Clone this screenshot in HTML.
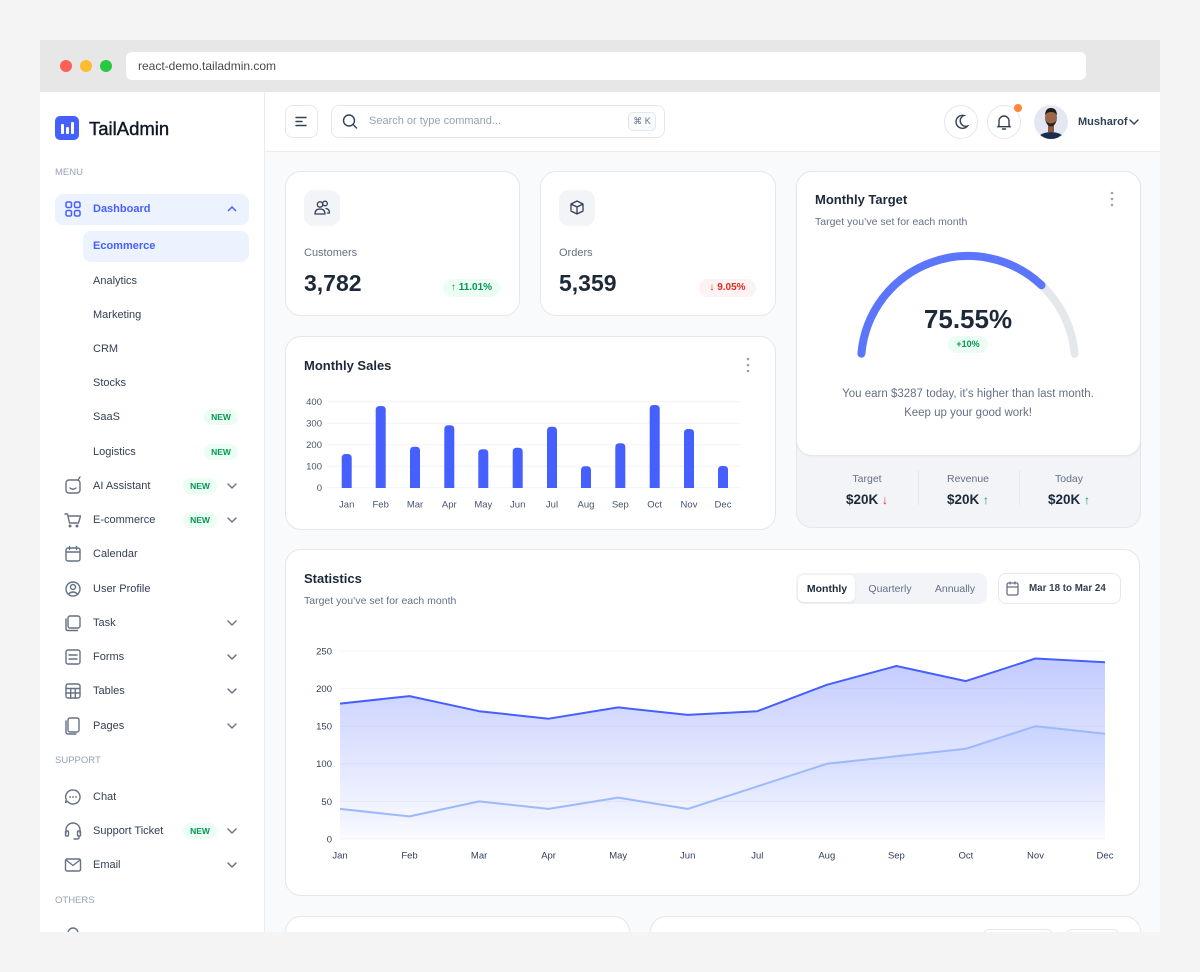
<!DOCTYPE html>
<html><head><meta charset="utf-8"><style>
*{box-sizing:border-box}
body{margin:0;width:1200px;height:972px;background:#f4f4f4;position:relative;overflow:hidden;font-family:"Liberation Sans","DejaVu Sans",sans-serif;color:#344054}
.a{position:absolute}
.t{position:absolute;white-space:nowrap;line-height:20px;height:20px}
.m{left:93px;font-size:11px;color:#344054}
.lbl{left:55px;font-size:9.5px;color:#98a2b3}
.new{position:absolute;width:34px;height:16px;border-radius:8px;background:#ecfdf3;color:#039855;font-size:8.5px;font-weight:bold;text-align:center;line-height:16px}
.card{position:absolute;background:#fff;border:1px solid #e4e7ec;border-radius:16px}
.c{text-align:center}
</style></head><body>

<!-- browser chrome -->
<div class="a" style="left:40px;top:40px;width:1120px;height:52px;background:#e7e7e7"></div>
<div class="a" style="left:60px;top:60px;width:12px;height:12px;border-radius:50%;background:#fe5f57"></div>
<div class="a" style="left:80px;top:60px;width:12px;height:12px;border-radius:50%;background:#febc2e"></div>
<div class="a" style="left:100px;top:60px;width:12px;height:12px;border-radius:50%;background:#28c840"></div>
<div class="a" style="left:126px;top:52px;width:960px;height:28px;background:#fff;border-radius:6px"></div>
<div class="t" style="left:138px;top:56px;font-size:12px;color:#4a4a4a">react-demo.tailadmin.com</div>

<!-- sidebar / header / content -->
<div class="a" style="left:40px;top:92px;width:225px;height:840px;background:#fff;border-right:1px solid #eaecf0"></div>
<div class="a" style="left:265px;top:92px;width:895px;height:60px;background:#fff;border-bottom:1px solid #eaecf0"></div>
<div class="a" style="left:265px;top:152px;width:895px;height:780px;background:#f9fafb"></div>

<!-- logo -->
<div class="a" style="left:55px;top:116px;width:24px;height:24px;background:#465fff;border-radius:5px"></div>
<div class="a" style="left:61px;top:124px;width:2.5px;height:10px;background:#fff;border-radius:1px"></div>
<div class="a" style="left:66px;top:127px;width:2.5px;height:7px;background:#fff;border-radius:1px"></div>
<div class="a" style="left:71px;top:122px;width:2.5px;height:12px;background:#fff;border-radius:1px"></div>
<div class="t" style="left:89px;top:119px;font-size:18.5px;color:#101828;-webkit-text-stroke:0.4px #101828">TailAdmin</div>

<div class="t lbl" style="top:163px">MENU</div>
<div class="a" style="left:55px;top:194px;width:194px;height:31px;background:#ecf3ff;border-radius:8px"></div>
<div class="t" style="left:93px;top:199px;font-size:11px;color:#465fff;font-weight:bold">Dashboard</div>
<div class="a" style="left:83px;top:231px;width:166px;height:31px;background:#ecf3ff;border-radius:8px"></div>
<div class="t" style="left:93px;top:236px;font-size:11px;color:#465fff;font-weight:bold">Ecommerce</div>
<div class="t m" style="top:271px">Analytics</div>
<div class="t m" style="top:305px">Marketing</div>
<div class="t m" style="top:339px">CRM</div>
<div class="t m" style="top:373px">Stocks</div>
<div class="t m" style="top:407px">SaaS</div>
<div class="new" style="left:204px;top:409px">NEW</div>
<div class="t m" style="top:442px">Logistics</div>
<div class="new" style="left:204px;top:444px">NEW</div>
<div class="t m" style="top:476px">AI Assistant</div>
<div class="new" style="left:183px;top:478px">NEW</div>
<div class="t m" style="top:510px">E-commerce</div>
<div class="new" style="left:183px;top:512px">NEW</div>
<div class="t m" style="top:544px">Calendar</div>
<div class="t m" style="top:579px">User Profile</div>
<div class="t m" style="top:613px">Task</div>
<div class="t m" style="top:647px">Forms</div>
<div class="t m" style="top:681px">Tables</div>
<div class="t m" style="top:716px">Pages</div>
<div class="t lbl" style="top:751px">SUPPORT</div>
<div class="t m" style="top:787px">Chat</div>
<div class="t m" style="top:821px">Support Ticket</div>
<div class="new" style="left:183px;top:823px">NEW</div>
<div class="t m" style="top:855px">Email</div>
<div class="t lbl" style="top:891px">OTHERS</div>

<!-- header -->
<div class="a" style="left:285px;top:105px;width:33px;height:33px;border:1px solid #e4e7ec;border-radius:8px;background:#fff"></div>
<div class="a" style="left:331px;top:105px;width:334px;height:33px;border:1px solid #e4e7ec;border-radius:8px;background:#fff"></div>
<div class="t" style="left:369px;top:111px;font-size:11px;color:#98a2b3">Search or type command...</div>
<div class="a" style="left:628px;top:112px;width:28px;height:19px;border:1px solid #e4e7ec;border-radius:5px;background:#f9fafb;font-size:9px;color:#667085;text-align:center;line-height:17px">⌘ K</div>
<div class="a" style="left:944px;top:105px;width:34px;height:34px;border:1px solid #e4e7ec;border-radius:50%;background:#fff"></div>
<div class="a" style="left:987px;top:105px;width:34px;height:34px;border:1px solid #e4e7ec;border-radius:50%;background:#fff"></div>
<div class="a" style="left:1014px;top:104px;width:8px;height:8px;border-radius:50%;background:#fd853a"></div>
<div class="t" style="left:1078px;top:112px;font-size:11px;color:#344054;font-weight:bold">Musharof</div>

<!-- Customers card -->
<div class="card" style="left:285px;top:171px;width:235px;height:145px"></div>
<div class="a" style="left:304px;top:190px;width:36px;height:36px;background:#f2f4f7;border-radius:10px"></div>
<div class="t" style="left:304px;top:243px;font-size:11px;color:#667085">Customers</div>
<div class="t" style="left:304px;top:272px;font-size:23px;line-height:22px;font-weight:bold;color:#1d2939">3,782</div>
<div class="a" style="left:443px;top:279px;width:57px;height:18px;border-radius:9px;background:#ecfdf3;color:#039855;font-size:10px;font-weight:bold;text-align:center;line-height:18px">↑ 11.01%</div>

<!-- Orders card -->
<div class="card" style="left:540px;top:171px;width:236px;height:145px"></div>
<div class="a" style="left:559px;top:190px;width:36px;height:36px;background:#f2f4f7;border-radius:10px"></div>
<div class="t" style="left:559px;top:243px;font-size:11px;color:#667085">Orders</div>
<div class="t" style="left:559px;top:272px;font-size:23px;line-height:22px;font-weight:bold;color:#1d2939">5,359</div>
<div class="a" style="left:699px;top:279px;width:57px;height:18px;border-radius:9px;background:#fef3f2;color:#d92d20;font-size:10px;font-weight:bold;text-align:center;line-height:18px">↓ 9.05%</div>

<!-- Monthly sales card -->
<div class="card" style="left:285px;top:336px;width:491px;height:194px"></div>
<div class="t" style="left:304px;top:356px;font-size:13px;font-weight:bold;color:#1d2939">Monthly Sales</div>

<!-- Monthly target card -->
<div class="a" style="left:796px;top:171px;width:345px;height:357px;background:#f2f4f7;border:1px solid #e4e7ec;border-radius:16px"></div>
<div class="a" style="left:796px;top:171px;width:345px;height:285px;background:#fff;border:1px solid #e4e7ec;border-radius:16px;box-shadow:0 1px 2px rgba(16,24,40,0.04)"></div>
<div class="t" style="left:815px;top:190px;font-size:13px;font-weight:bold;color:#1d2939">Monthly Target</div>
<div class="t" style="left:815px;top:212px;font-size:10.5px;color:#667085">Target you’ve set for each month</div>
<div class="t c" style="left:868px;top:304px;width:200px;height:30px;line-height:30px;font-size:26px;font-weight:bold;color:#1d2939">75.55%</div>
<div class="a" style="left:948px;top:336px;width:40px;height:17px;border-radius:9px;background:#ecfdf3;color:#039855;font-size:9px;font-weight:bold;text-align:center;line-height:17px">+10%</div>
<div class="t c" style="left:818px;top:384px;width:300px;font-size:11.5px;color:#667085">You earn $3287 today, it’s higher than last month.</div>
<div class="t c" style="left:818px;top:403px;width:300px;font-size:11.5px;color:#667085">Keep up your good work!</div>
<div class="t c" style="left:817px;top:469px;width:100px;font-size:10.5px;color:#667085">Target</div>
<div class="t c" style="left:918px;top:469px;width:100px;font-size:10.5px;color:#667085">Revenue</div>
<div class="t c" style="left:1019px;top:469px;width:100px;font-size:10.5px;color:#667085">Today</div>
<div class="t c" style="left:817px;top:490px;width:100px;font-size:13.5px;font-weight:bold;color:#1d2939">$20K <span style="color:#d92d20;font-size:12px">↓</span></div>
<div class="t c" style="left:918px;top:490px;width:100px;font-size:13.5px;font-weight:bold;color:#1d2939">$20K <span style="color:#039855;font-size:12px">↑</span></div>
<div class="t c" style="left:1019px;top:490px;width:100px;font-size:13.5px;font-weight:bold;color:#1d2939">$20K <span style="color:#039855;font-size:12px">↑</span></div>
<div class="a" style="left:918px;top:470px;width:1px;height:35px;background:#e4e7ec"></div>
<div class="a" style="left:1019px;top:470px;width:1px;height:35px;background:#e4e7ec"></div>

<!-- Statistics card -->
<div class="card" style="left:285px;top:549px;width:855px;height:347px"></div>
<div class="t" style="left:304px;top:569px;font-size:13px;font-weight:bold;color:#1d2939">Statistics</div>
<div class="t" style="left:304px;top:591px;font-size:10.5px;color:#667085">Target you’ve set for each month</div>
<div class="a" style="left:796px;top:573px;width:191px;height:31px;background:#f2f4f7;border-radius:8px"></div>
<div class="a" style="left:798px;top:575px;width:57px;height:27px;background:#fff;border-radius:6px;box-shadow:0 1px 2px rgba(16,24,40,0.08)"></div>
<div class="t c" style="left:797px;top:579px;width:60px;font-size:10.5px;font-weight:bold;color:#1d2939">Monthly</div>
<div class="t c" style="left:860px;top:579px;width:60px;font-size:10.5px;color:#667085">Quarterly</div>
<div class="t c" style="left:925px;top:579px;width:60px;font-size:10.5px;color:#667085">Annually</div>
<div class="a" style="left:998px;top:573px;width:123px;height:31px;background:#fff;border:1px solid #e4e7ec;border-radius:8px"></div>
<div class="t" style="left:1029px;top:579px;font-size:9.8px;font-weight:bold;color:#344054">Mar 18 to Mar 24</div>

<!-- bottom cards -->
<div class="a" style="left:285px;top:916px;width:345px;height:40px;background:#fff;border:1px solid #e4e7ec;border-radius:16px"></div>
<div class="a" style="left:650px;top:916px;width:491px;height:40px;background:#fff;border:1px solid #e4e7ec;border-radius:16px"></div>
<div class="a" style="left:982px;top:929px;width:72px;height:20px;border:1px solid #e4e7ec;border-radius:8px"></div>
<div class="a" style="left:1065px;top:929px;width:56px;height:20px;border:1px solid #e4e7ec;border-radius:8px"></div>

<svg class="a" style="left:0;top:0" width="1200" height="972" viewBox="0 0 1200 972" font-family="Liberation Sans, sans-serif">
<defs>
<linearGradient id="g1" gradientUnits="userSpaceOnUse" x1="0" y1="651" x2="0" y2="839">
<stop offset="0" stop-color="#465fff" stop-opacity="0.34"/><stop offset="1" stop-color="#465fff" stop-opacity="0.02"/></linearGradient>
<linearGradient id="g2" gradientUnits="userSpaceOnUse" x1="0" y1="726" x2="0" y2="839">
<stop offset="0" stop-color="#9cb9ff" stop-opacity="0.25"/><stop offset="1" stop-color="#9cb9ff" stop-opacity="0"/></linearGradient>
<clipPath id="av"><circle cx="1051" cy="122" r="17"/></clipPath>
</defs>

<!-- sidebar icons -->
<g fill="none" stroke="#465fff" stroke-width="1.5">
<rect x="66" y="202" width="5.5" height="5.5" rx="1.5"/><rect x="74.5" y="202" width="5.5" height="5.5" rx="1.5"/>
<rect x="66" y="210.5" width="5.5" height="5.5" rx="1.5"/><rect x="74.5" y="210.5" width="5.5" height="5.5" rx="1.5"/>
<polyline points="228,211 232,207 236,211"/>
</g>
<g fill="none" stroke="#667085" stroke-width="1.4" stroke-linecap="round" stroke-linejoin="round">
<!-- AI -->
<rect x="66" y="480" width="14" height="13" rx="3"/><path d="M70 488 q3 2.5 6 0"/><path d="M78 480 l2-3"/>
<!-- cart -->
<path d="M65 514 h2.5 l2 9 h9 l2-7 h-12"/><circle cx="70" cy="526" r="0.8"/><circle cx="77" cy="526" r="0.8"/>
<!-- calendar -->
<rect x="66" y="548" width="14" height="13" rx="2"/><path d="M66 552 h14 M69.5 546.5 v3 M76.5 546.5 v3"/>
<!-- user -->
<circle cx="73" cy="589" r="7"/><circle cx="73" cy="587" r="2.5"/><path d="M68.5 594 q4.5 -4 9 0"/>
<!-- task -->
<rect x="68" y="616" width="12" height="12" rx="2"/><path d="M66 619 v10 q0 1.5 1.5 1.5 h10"/>
<!-- forms -->
<rect x="66" y="650" width="14" height="14" rx="2"/><path d="M69 655 h8 M69 659 h8"/>
<!-- tables -->
<rect x="66" y="684" width="14" height="14" rx="2"/><path d="M66 688.5 h14 M66 693 h14 M70.7 688.5 v9.5 M75.3 688.5 v9.5"/>
<!-- pages -->
<rect x="68" y="718" width="11" height="14" rx="2"/><path d="M66 721 v11 q0 2 2 2 h8"/>
<!-- chat -->
<path d="M73 790 a7 7 0 1 1 -5.5 11.3 l-2 1.2 l0.8 -2.6 a7 7 0 0 1 6.7 -9.9z"/><path d="M70 797 h0.1 M73 797 h0.1 M76 797 h0.1" stroke-width="1.8"/>
<!-- headset -->
<path d="M66 833 v-3 a7 7 0 0 1 14 0 v3"/><rect x="65.5" y="831" width="3" height="5" rx="1"/><rect x="77.5" y="831" width="3" height="5" rx="1"/><path d="M79 836 v1.5 q0 1.5 -2 1.5 h-3"/>
<!-- mail -->
<rect x="65.5" y="859" width="15" height="12" rx="1.5"/><path d="M66 860 l7 5.5 l7-5.5"/>
<!-- others partial -->
<path d="M68 933 a5 5 0 0 1 10 0"/>
<!-- chevrons -->
<polyline points="228,484 232,488 236,484"/><polyline points="228,518 232,522 236,518"/>
<polyline points="228,621 232,625 236,621"/><polyline points="228,655 232,659 236,655"/>
<polyline points="228,689 232,693 236,689"/><polyline points="228,724 232,728 236,724"/>
<polyline points="228,829 232,833 236,829"/><polyline points="228,863 232,867 236,863"/>
</g>

<!-- header icons -->
<g fill="none" stroke="#344054" stroke-width="1.4" stroke-linecap="round">
<path d="M296 117.5 h10 M296 121.5 h6 M296 125.5 h10"/>
<circle cx="349" cy="120.5" r="5.5"/><path d="M353 124.5 l3.5 3.5"/>
<path d="M964 115.5 a6.5 6.5 0 1 0 3.5 10.5 a5.2 5.2 0 0 1 -3.5 -10.5z"/>
<path d="M999 125.5 v-4.5 a5 5 0 0 1 10 0 v4.5 l1 1.2 h-12 z M1002.5 129 h3"/>
<polyline points="1130,120 1134,124 1138,120"/>
</g>
<!-- avatar -->
<g clip-path="url(#av)">
<circle cx="1051" cy="122" r="17" fill="#e3e6f3"/>
<ellipse cx="1051" cy="142" rx="15" ry="10" fill="#1b2c4c"/>
<rect x="1048" y="125" width="6" height="7" fill="#8a5a3c"/>
<ellipse cx="1051" cy="118" rx="6" ry="7.5" fill="#9a6848"/>
<path d="M1045 116 q0-8 6-8 q6 0 6 8 q-1-4-6-4 q-5 0-6 4z" fill="#1e1b1b"/>
<path d="M1045.5 120 q1 6 5.5 6.5 q4.5-0.5 5.5-6.5 q-1 3-5.5 3.5 q-4.5-0.5-5.5-3.5z" fill="#2a1f1a"/>
</g>

<!-- card icons -->
<g fill="none" stroke="#344054" stroke-width="1.3" stroke-linecap="round" stroke-linejoin="round">
<circle cx="320" cy="204.5" r="2.7"/><path d="M315 214 q0-5 5-5 q5 0 5 5 z"/>
<circle cx="325" cy="203.5" r="2.3"/><path d="M326 208.5 q3.5 0.5 3.5 4.5 h-2"/>
<path d="M577 201 l6 3 v7 l-6 3 l-6-3 v-7 z M571 204 l6 3 l6-3 M577 207 v7"/>
</g>

<!-- menu dots -->
<g fill="#98a2b3">
<circle cx="748" cy="359" r="1.3"/><circle cx="748" cy="365" r="1.3"/><circle cx="748" cy="371" r="1.3"/>
<circle cx="1112" cy="193" r="1.3"/><circle cx="1112" cy="199" r="1.3"/><circle cx="1112" cy="205" r="1.3"/>
</g>
<!-- calendar icon date btn -->
<g fill="none" stroke="#667085" stroke-width="1.3"><rect x="1007" y="583" width="11" height="12" rx="1.5"/><path d="M1007 587 h11 M1010 581.5 v3 M1015 581.5 v3"/></g>

<!-- monthly sales chart -->
<g stroke="#f2f4f7" stroke-width="1">
<line x1="327" y1="401.7" x2="741" y2="401.7"/><line x1="327" y1="423.2" x2="741" y2="423.2"/>
<line x1="327" y1="444.7" x2="741" y2="444.7"/><line x1="327" y1="466.2" x2="741" y2="466.2"/>
<line x1="327" y1="487.7" x2="741" y2="487.7"/>
</g>
<g font-size="9.5" fill="#475467" text-anchor="end">
<text x="322" y="405">400</text><text x="322" y="426.5">300</text><text x="322" y="448">200</text><text x="322" y="469.5">100</text><text x="322" y="491">0</text>
</g>
<g fill="#465fff">
<path d="M341.7 488 V458 Q341.7 454 345.7 454 H347.7 Q351.7 454 351.7 458 V488Z"/>
<path d="M375.7 488 V410 Q375.7 406 379.7 406 H381.7 Q385.7 406 385.7 410 V488Z"/>
<path d="M410 488 V450.7 Q410 446.7 414 446.7 H416 Q420 446.7 420 450.7 V488Z"/>
<path d="M444.3 488 V429.3 Q444.3 425.3 448.3 425.3 H450.3 Q454.3 425.3 454.3 429.3 V488Z"/>
<path d="M478.3 488 V453.3 Q478.3 449.3 482.3 449.3 H484.3 Q488.3 449.3 488.3 453.3 V488Z"/>
<path d="M512.7 488 V451.7 Q512.7 447.7 516.7 447.7 H518.7 Q522.7 447.7 522.7 451.7 V488Z"/>
<path d="M547 488 V430.7 Q547 426.7 551 426.7 H553 Q557 426.7 557 430.7 V488Z"/>
<path d="M581 488 V470.3 Q581 466.3 585 466.3 H587 Q591 466.3 591 470.3 V488Z"/>
<path d="M615.3 488 V447.3 Q615.3 443.3 619.3 443.3 H621.3 Q625.3 443.3 625.3 447.3 V488Z"/>
<path d="M649.7 488 V409 Q649.7 405 653.7 405 H655.7 Q659.7 405 659.7 409 V488Z"/>
<path d="M684 488 V433 Q684 429 688 429 H690 Q694 429 694 433 V488Z"/>
<path d="M718 488 V470 Q718 466 722 466 H724 Q728 466 728 470 V488Z"/>
</g>
<g font-size="9.5" fill="#475467" text-anchor="middle">
<text x="346.7" y="507.5">Jan</text><text x="380.7" y="507.5">Feb</text><text x="415" y="507.5">Mar</text><text x="449.3" y="507.5">Apr</text>
<text x="483.3" y="507.5">May</text><text x="517.7" y="507.5">Jun</text><text x="552" y="507.5">Jul</text><text x="586" y="507.5">Aug</text>
<text x="620.3" y="507.5">Sep</text><text x="654.7" y="507.5">Oct</text><text x="689" y="507.5">Nov</text><text x="723" y="507.5">Dec</text>
</g>

<!-- gauge -->
<path d="M861.4 353.7 A107 107 0 0 1 1074.6 353.7" fill="none" stroke="#e4e7ec" stroke-width="8" stroke-linecap="round"/>
<path d="M861.4 353.7 A107 107 0 0 1 1041.5 285.2" fill="none" stroke="#5c76fb" stroke-width="8" stroke-linecap="round"/>

<!-- statistics chart -->
<g stroke="#f2f4f7" stroke-width="1">
<line x1="340" y1="651" x2="1105" y2="651"/><line x1="340" y1="688.6" x2="1105" y2="688.6"/>
<line x1="340" y1="726.2" x2="1105" y2="726.2"/><line x1="340" y1="763.8" x2="1105" y2="763.8"/>
<line x1="340" y1="801.4" x2="1105" y2="801.4"/><line x1="340" y1="839" x2="1105" y2="839"/>
</g>
<polygon fill="url(#g1)" points="340,703.6 409.5,696.1 479.1,711.2 548.6,718.7 618.2,707.4 687.7,714.9 757.3,711.2 826.8,684.8 896.4,666 965.9,681.1 1035.5,658.5 1105,662.3 1105,839 340,839"/>
<polygon fill="url(#g2)" points="340,808.9 409.5,816.4 479.1,801.4 548.6,808.9 618.2,797.6 687.7,808.9 757.3,786.4 826.8,763.8 896.4,756.3 965.9,748.8 1035.5,726.2 1105,733.7 1105,839 340,839"/>
<polyline fill="none" stroke="#465fff" stroke-width="2" stroke-linejoin="round" points="340,703.6 409.5,696.1 479.1,711.2 548.6,718.7 618.2,707.4 687.7,714.9 757.3,711.2 826.8,684.8 896.4,666 965.9,681.1 1035.5,658.5 1105,662.3"/>
<polyline fill="none" stroke="#9cb9ff" stroke-width="2" stroke-linejoin="round" points="340,808.9 409.5,816.4 479.1,801.4 548.6,808.9 618.2,797.6 687.7,808.9 757.3,786.4 826.8,763.8 896.4,756.3 965.9,748.8 1035.5,726.2 1105,733.7"/>
<g font-size="9.5" fill="#344054" text-anchor="end">
<text x="332" y="654.5">250</text><text x="332" y="692">200</text><text x="332" y="729.5">150</text>
<text x="332" y="767">100</text><text x="332" y="805">50</text><text x="332" y="842.5">0</text>
</g>
<g font-size="9.5" fill="#344054" text-anchor="middle">
<text x="340" y="858.5">Jan</text><text x="409.5" y="858.5">Feb</text><text x="479.1" y="858.5">Mar</text><text x="548.6" y="858.5">Apr</text>
<text x="618.2" y="858.5">May</text><text x="687.7" y="858.5">Jun</text><text x="757.3" y="858.5">Jul</text><text x="826.8" y="858.5">Aug</text>
<text x="896.4" y="858.5">Sep</text><text x="965.9" y="858.5">Oct</text><text x="1035.5" y="858.5">Nov</text><text x="1105" y="858.5">Dec</text>
</g>
</svg>

<!-- clip bottom of browser frame -->
<div class="a" style="left:0;top:932px;width:1200px;height:40px;background:#f4f4f4"></div>
</body></html>
